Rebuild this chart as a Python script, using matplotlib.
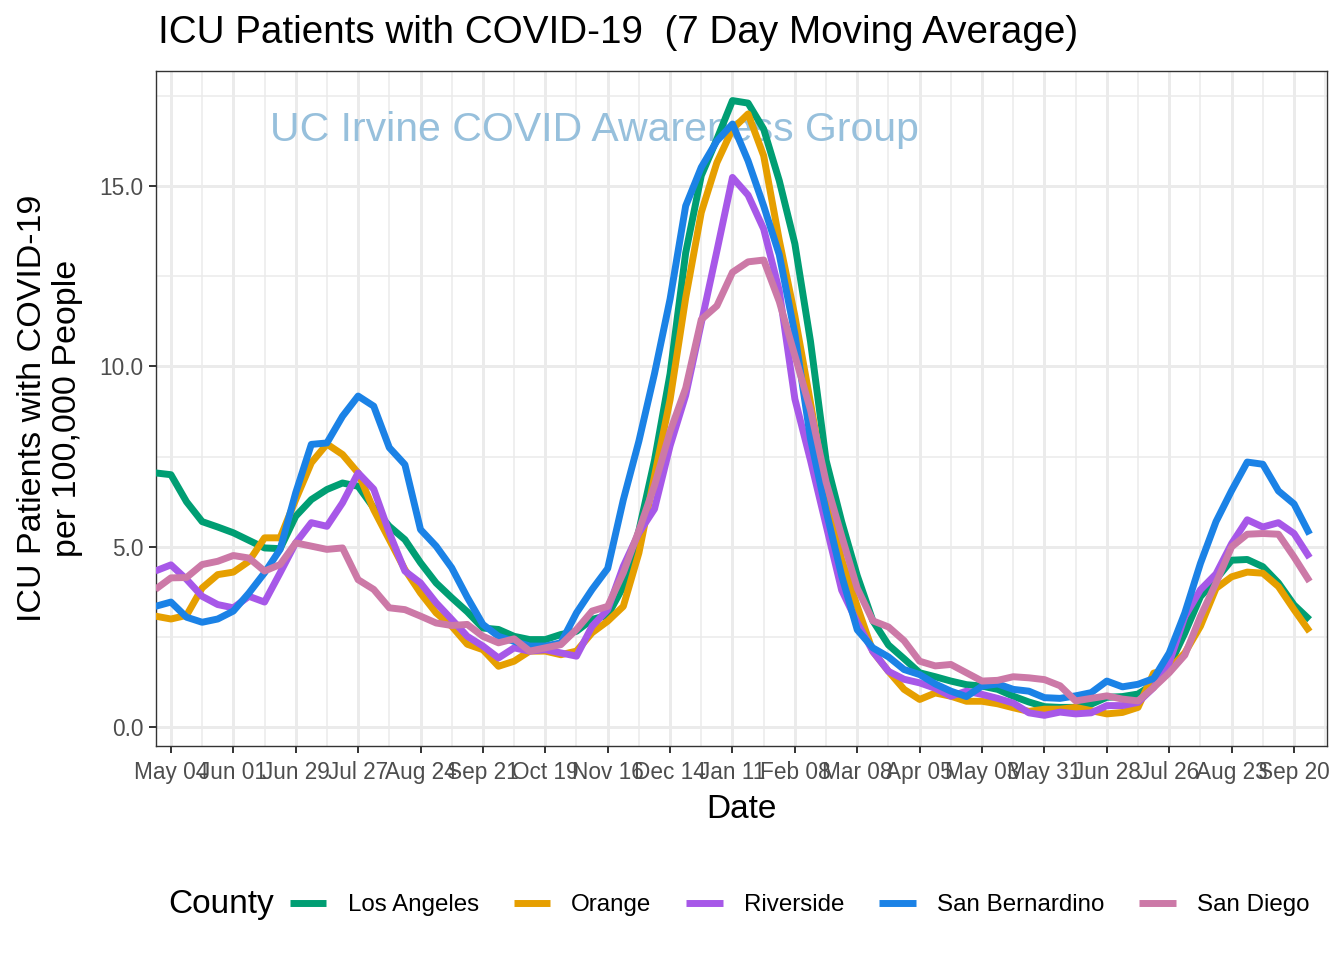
import matplotlib
matplotlib.use("Agg")
import matplotlib.pyplot as plt
import matplotlib.dates as mdates
from matplotlib.lines import Line2D
from matplotlib.ticker import FixedLocator
import pandas as pd

plt.rcParams["font.family"] = ["Liberation Sans", "DejaVu Sans"]

# weekly samples, 2020-04-27 .. 2021-09-27
dates = pd.date_range("2020-04-27", periods=75, freq="7D")

los_angeles = [
    7.05, 7.0, 6.25, 5.7, 5.55, 5.39, 5.18, 4.97, 4.95, 5.85,
    6.31, 6.59, 6.77, 6.68, 6.08, 5.57, 5.2, 4.56, 4.0, 3.59,
    3.2, 2.75, 2.71, 2.52, 2.43, 2.43, 2.57, 2.66, 2.99, 3.1,
    3.9, 5.45, 7.4, 9.8, 13.15, 15.29, 16.3, 17.37, 17.3, 16.58,
    15.15, 13.4, 10.7, 7.4, 5.7, 4.2, 2.95, 2.28, 1.9, 1.51,
    1.4, 1.28, 1.18, 1.14, 1.05, 0.86, 0.7, 0.57, 0.55, 0.55,
    0.64, 0.83, 0.85, 0.92, 1.2, 1.7, 2.61, 3.62, 4.1, 4.63,
    4.65, 4.45, 4.0, 3.39, 2.98,
]
orange = [
    3.08, 3.0, 3.1, 3.86, 4.23, 4.3, 4.6, 5.25, 5.25, 6.31,
    7.33, 7.85, 7.56, 7.05, 6.03, 5.2, 4.37, 3.72, 3.17, 2.8,
    2.3, 2.15, 1.69, 1.83, 2.11, 2.11, 2.01, 2.11, 2.62, 2.94,
    3.35, 4.83, 6.96, 9.08, 11.9, 14.27, 15.65, 16.58, 17.0, 15.84,
    13.5, 11.4, 9.0, 6.5, 4.65, 3.35, 2.1, 1.55, 1.05, 0.77,
    0.95, 0.86, 0.72, 0.72, 0.65, 0.54, 0.44, 0.5, 0.5, 0.55,
    0.46, 0.37, 0.41, 0.55, 1.5, 1.61, 2.06, 2.8, 3.85, 4.17,
    4.3, 4.27, 3.9, 3.26, 2.65,
]
riverside = [
    4.33, 4.5, 4.1, 3.63, 3.4, 3.31, 3.63, 3.47, 4.28, 5.11,
    5.67, 5.57, 6.22, 7.05, 6.6, 5.39, 4.33, 4.0, 3.45, 2.99,
    2.52, 2.25, 1.92, 2.2, 2.11, 2.15, 2.06, 1.97, 2.8, 3.26,
    4.46, 5.39, 6.05, 7.8, 9.2, 11.2, 13.2, 15.24, 14.75, 13.81,
    12.1, 9.1, 7.4, 5.6, 3.8, 2.9, 2.1, 1.55, 1.33, 1.23,
    1.08, 0.86, 1.0, 0.91, 0.8, 0.67, 0.4, 0.33, 0.42, 0.37,
    0.4, 0.6, 0.6, 0.69, 1.1, 1.79, 3.07, 3.81, 4.25, 5.09,
    5.75, 5.55, 5.67, 5.37, 4.7,
]
san_bernardino = [
    3.35, 3.47, 3.05, 2.91, 3.0, 3.22, 3.72, 4.28, 4.93, 6.5,
    7.84, 7.88, 8.62, 9.18, 8.9, 7.75, 7.28, 5.48, 5.02, 4.42,
    3.6, 2.85, 2.52, 2.38, 2.25, 2.25, 2.34, 3.17, 3.82, 4.4,
    6.3, 7.93, 9.8, 11.87, 14.45, 15.52, 16.25, 16.72, 15.7, 14.45,
    13.1, 10.9, 8.0, 6.0, 4.2, 2.7, 2.2, 1.95, 1.6, 1.46,
    1.2, 1.0, 0.85, 1.14, 1.2, 1.05, 1.0, 0.82, 0.8, 0.87,
    0.96, 1.28, 1.12, 1.19, 1.35, 2.06, 3.17, 4.54, 5.7, 6.56,
    7.35, 7.29, 6.55, 6.19, 5.35,
]
san_diego = [
    3.82, 4.14, 4.15, 4.51, 4.6, 4.76, 4.69, 4.33, 4.51, 5.11,
    5.02, 4.93, 4.97, 4.09, 3.82, 3.31, 3.26, 3.08, 2.89, 2.82,
    2.85, 2.52, 2.34, 2.45, 2.11, 2.2, 2.29, 2.71, 3.22, 3.35,
    4.28, 5.45, 6.7, 8.2, 9.4, 11.3, 11.68, 12.61, 12.9, 12.95,
    11.8, 10.3, 8.8, 6.8, 5.3, 3.85, 2.95, 2.78, 2.4, 1.83,
    1.7, 1.74, 1.51, 1.28, 1.3, 1.4, 1.37, 1.32, 1.15, 0.73,
    0.8, 0.87, 0.78, 0.73, 1.1, 1.51, 2.0, 3.07, 4.0, 5.0,
    5.35, 5.37, 5.35, 4.72, 4.04,
]

counties = ["Los Angeles", "Orange", "Riverside", "San Bernardino", "San Diego"]
series = [los_angeles, orange, riverside, san_bernardino, san_diego]
colors = ["#009E73", "#E69F00", "#A758E8", "#1B82E6", "#CC79A7"]

y_ticks = [0, 5, 10, 15]
y_tick_labels = ["0.0", "5.0", "10.0", "15.0"]

W, H = 1344, 960
fig = plt.figure(figsize=(W / 100, H / 100), dpi=100)
ax = fig.add_axes([156 / W, 1 - 746 / H, (1327 - 156) / W, (746 - 71) / H])

grid_col = "#EBEBEB"
dark = "#333333"

# x axis: ticks every 4 weeks from May 04 2020
x_major = pd.date_range("2020-05-04", "2021-09-20", freq="28D")
x_minor = pd.date_range("2020-04-20", "2021-10-04", freq="28D")
ax.xaxis.set_major_locator(FixedLocator(mdates.date2num(x_major)))
ax.xaxis.set_minor_locator(FixedLocator(mdates.date2num(x_minor)))
ax.xaxis.set_major_formatter(mdates.DateFormatter("%b %d"))
ax.set_yticks(y_ticks)
ax.set_yticklabels(y_tick_labels)
ax.yaxis.set_minor_locator(FixedLocator([2.5, 7.5, 12.5, 17.5]))

ax.grid(which="major", color=grid_col, lw=2.1)
ax.grid(which="minor", color=grid_col, lw=1.1)
ax.set_axisbelow(True)

ax.text(0.0974, 0.9126, "UC Irvine COVID Awareness Group", transform=ax.transAxes,
        ha="left", va="center", fontsize=29.5, color="#97C0DC", zorder=1)

for name, vals, col in zip(counties, series, colors):
    ax.plot(dates, vals, color=col, lw=5, solid_joinstyle="round",
            solid_capstyle="butt", zorder=3, label=name)

x0 = pd.Timestamp("2020-05-04") - pd.Timedelta(days=6.7)
x1 = pd.Timestamp("2021-09-20") + pd.Timedelta(days=14.8)
ax.set_xlim(x0, x1)
ax.set_ylim(-0.52, 18.19)

for s in ax.spines.values():
    s.set_color(dark)
    s.set_linewidth(1.0)

ax.tick_params(which="major", length=5, width=1.4, color=dark,
               labelcolor="#4D4D4D", labelsize=16.3)
ax.tick_params(axis="x", which="major", pad=6)
ax.tick_params(axis="y", which="major", pad=4)
ax.tick_params(which="minor", length=0)

fig.text(158 / W, 1 - 33 / H, "ICU Patients with COVID-19  (7 Day Moving Average)",
         ha="left", va="center", fontsize=27.8, color="black")
fig.text(741 / W, 1 - 810 / H, "Date", ha="center", va="center", fontsize=24)
fig.text(50 / W, 1 - 408 / H, "ICU Patients with COVID-19\nper 100,000 People",
         ha="center", va="center", rotation=90, fontsize=24.5, linespacing=1.15,
         multialignment="center")

# legend at the bottom, title to the left
fig.text(168 / W, 1 - 905 / H, "County", ha="left", va="center", fontsize=24)
handles = [Line2D([0], [0], color=c, lw=5, solid_capstyle="butt") for c in colors]
fig.legend(handles, counties, loc="center left", bbox_to_anchor=(290 / W, 1 - 905 / H),
           ncol=5, frameon=False, fontsize=17.4, handlelength=1.5, handletextpad=0.88,
           columnspacing=1.45, borderpad=0, borderaxespad=0)

fig.savefig("out.png", dpi=100)
